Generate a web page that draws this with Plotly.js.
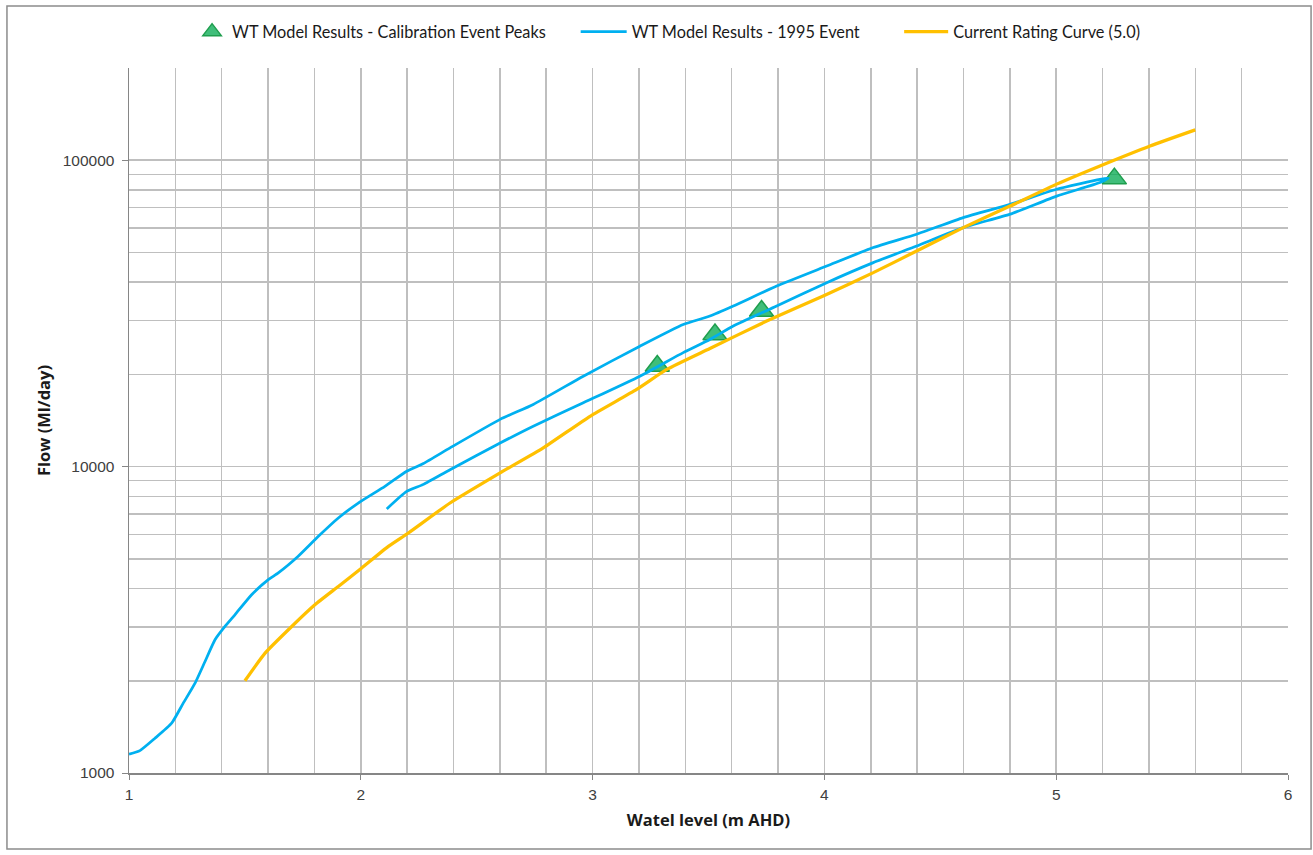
<!DOCTYPE html>
<html>
<head>
<meta charset="utf-8">
<script src="https://cdn.plot.ly/plotly-3.0.1.min.js"></script>
<style>
  html, body { margin: 0; padding: 0; background: #ffffff; }
  #chart { width: 1313px; height: 855px; }
</style>
</head>
<body>
<div id="chart"></div>
<script>
// Calibration event peaks (water level m AHD, flow Ml/day)
const peakLevel = [3.279, 3.528, 3.729, 5.251];
const peakFlow  = [21290, 26980, 32200, 87100];

// 1995 event hysteresis loop: rising limb then falling limb
const eventLevel = [
  1.000, 1.047, 1.112, 1.184, 1.234, 1.285, 1.328, 1.371, 1.414, 1.457,
  1.529, 1.601, 1.644, 1.730, 1.817, 1.903, 1.989, 2.104, 2.198, 2.270,
  2.385, 2.601, 2.744, 2.960, 3.204, 3.391, 3.506, 3.607, 3.794, 4.010,
  4.211, 4.398, 4.599, 4.801, 5.002, 5.189, 5.225,
  5.189, 5.002, 4.801, 4.599, 4.398, 4.211, 4.010, 3.794, 3.607, 3.506,
  3.391, 3.204, 2.960, 2.744, 2.601, 2.385, 2.270, 2.198, 2.112
];
const eventFlow = [
  1151, 1183, 1298, 1454, 1690, 1965, 2312, 2722, 3008, 3284,
  3818, 4276, 4497, 5097, 5920, 6795, 7607, 8623, 9661, 10234,
  11510, 14260, 15960, 19730, 24720, 29100, 31000, 33430, 38830, 45140,
  51880, 57330, 64990, 71800, 80380, 86630, 87500,
  84540, 76380, 66680, 60260, 52480, 46330, 39850, 33430, 28770, 26000,
  23550, 19730, 16150, 13550, 11940, 9772, 8750, 8302, 7278
];

// Current rating curve (5.0)
const ratingLevel = [
  1.500, 1.587, 1.702, 1.802, 1.903, 2.004, 2.119, 2.205, 2.385, 2.601,
  2.787, 2.989, 3.190, 3.320, 3.506, 3.751, 3.995, 4.211, 4.398, 4.599,
  4.801, 5.002, 5.189, 5.405, 5.600
];
const ratingFlow = [
  2000, 2462, 3008, 3540, 4064, 4669, 5492, 6073, 7607, 9537,
  11510, 14600, 17860, 20760, 24300, 29860, 36050, 42960, 50570, 60260,
  70840, 83560, 95800, 111300, 125600
];

// Axis ticks
const xTicks = [1, 2, 3, 4, 5, 6];
const yTicks = [1000, 10000, 100000];
const yTickText = ['1000', '10000', '100000'];
const yMinorTicks = [2000, 3000, 4000, 5000, 6000, 7000, 8000, 9000,
                     20000, 30000, 40000, 50000, 60000, 70000, 80000, 90000, 200000];

const gridColor = '#bfbfbf';
const axisColor = '#868686';
const textFont = 'Lato, "Open Sans", sans-serif';
const titleFont = '"Open Sans", Lato, sans-serif';
const tickFont = '"Liberation Sans", Arial, sans-serif';

const traces = [
  {
    x: peakLevel, y: peakFlow,
    type: 'scatter', mode: 'markers',
    name: 'WT Model Results - Calibration Event Peaks',
    marker: {
      symbol: 'triangle-up', size: 21,
      color: 'rgba(0,168,78,0.75)',
      line: { color: '#1f9e4e', width: 1.5 }
    },
    legend: 'legend'
  },
  {
    x: eventLevel, y: eventFlow,
    type: 'scatter', mode: 'lines',
    name: 'WT Model Results - 1995 Event',
    line: { color: '#00b0f0', width: 2.75, shape: 'spline', smoothing: 0.5 },
    legend: 'legend2'
  },
  {
    x: ratingLevel, y: ratingFlow,
    type: 'scatter', mode: 'lines',
    name: 'Current Rating Curve (5.0)',
    line: { color: '#ffc000', width: 3.25, shape: 'spline', smoothing: 0.5 },
    legend: 'legend3'
  }
];

const legendBase = {
  orientation: 'h', yanchor: 'middle', xanchor: 'left', y: 1.051,
  font: { family: textFont, size: 16.3, color: '#1a1a1a' },
  bgcolor: 'rgba(0,0,0,0)', borderwidth: 0
};

const layout = {
  width: 1313, height: 855,
  margin: { l: 129, r: 25, t: 68, b: 82, pad: 0 },
  paper_bgcolor: '#ffffff', plot_bgcolor: '#ffffff',
  showlegend: true,
  legend:  Object.assign({}, legendBase, { x: 0.0544 }),
  legend2: Object.assign({}, legendBase, { x: 0.3854, itemwidth: 46 }),
  legend3: Object.assign({}, legendBase, { x: 0.6645, itemwidth: 44 }),
  xaxis: {
    type: 'linear', range: [1, 6],
    tickmode: 'array', tickvals: xTicks, ticktext: xTicks.map(String),
    ticks: 'outside', ticklen: 5, tickcolor: axisColor, tickwidth: 1,
    ticklabelstandoff: 2,
    showline: true, linecolor: axisColor, linewidth: 1.5,
    showgrid: true, gridcolor: gridColor, gridwidth: 1.5,
    zeroline: false,
    minor: { dtick: 0.2, showgrid: true, gridcolor: gridColor, gridwidth: 1.5, ticks: '' },
    tickfont: { family: tickFont, size: 15.5, color: '#404040' },
    title: { text: '<b>Watel level (m AHD)</b>', font: { family: titleFont, size: 16.5, color: '#1a1a1a' }, standoff: 12 }
  },
  yaxis: {
    type: 'log', range: [3, Math.log10(200000)],
    tickmode: 'array', tickvals: yTicks, ticktext: yTickText,
    ticks: 'outside', ticklen: 6, tickcolor: axisColor, tickwidth: 1,
    ticklabelstandoff: 4,
    showline: true, linecolor: axisColor, linewidth: 1.5,
    showgrid: true, gridcolor: gridColor, gridwidth: 1.5,
    zeroline: false,
    minor: { tickmode: 'array', tickvals: yMinorTicks, showgrid: true, gridcolor: gridColor, gridwidth: 1.5, ticks: '' },
    tickfont: { family: tickFont, size: 15.5, color: '#404040' },
    title: { text: '<b>Flow (Ml/day)</b>', font: { family: titleFont, size: 16.5, color: '#1a1a1a' }, standoff: 8 }
  },
  shapes: [
    // outer chart frame
    { type: 'rect', xref: 'paper', yref: 'paper',
      x0: -0.1053, x1: 1.0199, y0: -0.1078, y1: 1.0879,
      line: { color: '#8c8c8c', width: 1.5 }, fillcolor: 'rgba(0,0,0,0)', layer: 'below' }
  ]
};

Plotly.newPlot('chart', traces, layout, { displayModeBar: false, staticPlot: true });
</script>
</body>
</html>
